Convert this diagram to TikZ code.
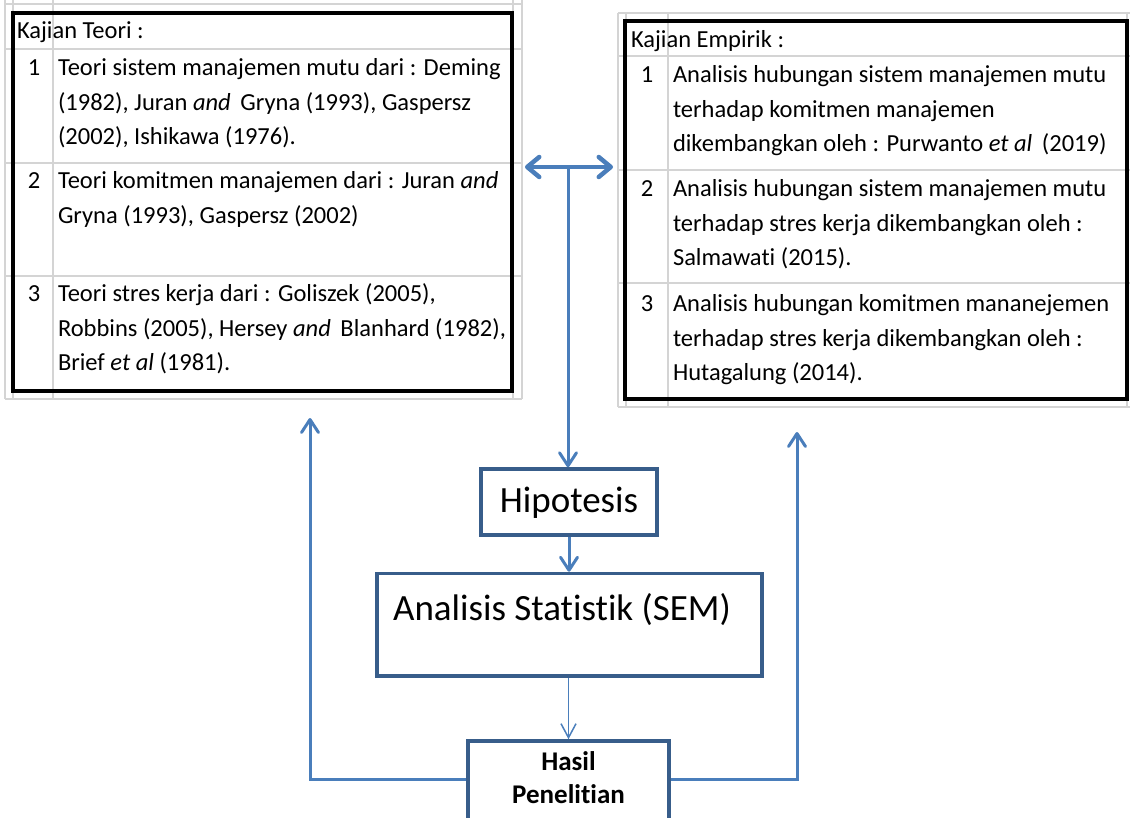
\documentclass[tikz,border=0pt]{standalone}
\usepackage{fontspec}
\setmainfont{Carlito}[Ligatures={CommonOff,ContextualOff}]
\usetikzlibrary{arrows.meta}
\definecolor{conncol}{HTML}{4A7EBB}
\definecolor{boxcol}{HTML}{385D8A}
\definecolor{gridcol}{HTML}{D4D4D4}
\begin{document}
\begin{tikzpicture}[x=1pt,y=-1pt,
  gridline/.style={draw=gridcol, line width=1.3pt},
  tableframe/.style={draw=black, line width=4pt, inner sep=0pt, outer sep=0pt, anchor=north west},
  celltext/.style={inner sep=0pt, outer sep=0pt, anchor=base west, font=\fontsize{24.5}{34.5}\selectfont},
  numtext/.style={inner sep=0pt, outer sep=0pt, anchor=base, font=\fontsize{24.5}{34.5}\selectfont},
  flowbox/.style={draw=boxcol, line width=3.5pt, fill=white, inner sep=0pt},
  conn/.style={draw=conncol, line width=3pt, -{Straight Barb[length=13pt,width=17pt,round]}},
  thinconn/.style={draw=conncol, line width=1.5pt, -{Straight Barb[length=14pt,width=15pt]}},
  dblconn/.style={draw=conncol, line width=4.5pt, {Straight Barb[length=12pt,width=20pt,round]}-{Straight Barb[length=12pt,width=20pt,round]}}
]
\useasboundingbox (0,0) rectangle (1130,818);

% ---------- grid of left table ----------
\foreach \gx in {5,13,53,513,522} \draw[gridline] (\gx,0) -- (\gx,399);
\foreach \gy in {4,49,163,276,399} \draw[gridline] (5,\gy) -- (522,\gy);
% ---------- grid of right table ----------
\foreach \gx in {618,626,668,1127} \draw[gridline] (\gx,13) -- (\gx,407);
\foreach \gy in {13,56,170,283,407} \draw[gridline] (618,\gy) -- (1130,\gy);

% ---------- table frames ----------
\node[tableframe, minimum width=499.5, minimum height=377.5] (teori) at (12.5,13) {};
\node[tableframe, minimum width=502, minimum height=378] (empirik) at (625,21) {};

% ---------- left table text ----------
\node[celltext] (th) at (17,39) {Kajian Teori :};
\node[numtext] (n1) at (34,76) {1};
\node[numtext] (n2) at (34,189) {2};
\node[numtext] (n3) at (34,302) {3};
\node[celltext] (t1) at (58,76) {\begin{tabular}[t]{@{}l@{}}Teori sistem manajemen mutu dari : Deming\\(1982), Juran \textit{and}\, Gryna (1993), Gaspersz\\(2002), Ishikawa (1976).\end{tabular}};
\node[celltext] (t2) at (58,189) {\begin{tabular}[t]{@{}l@{}}Teori komitmen manajemen dari : Juran \textit{and}\\Gryna (1993), Gaspersz (2002)\end{tabular}};
\node[celltext] (t3) at (58,302) {\begin{tabular}[t]{@{}l@{}}Teori stres kerja dari : Goliszek (2005),\\Robbins (2005), Hersey \textit{and}\, Blanhard (1982),\\Brief \textit{et al} (1981).\end{tabular}};

% ---------- right table text ----------
\node[celltext] (eh) at (631,48) {Kajian Empirik :};
\node[numtext] (m1) at (647,83) {1};
\node[numtext] (m2) at (647,197) {2};
\node[numtext] (m3) at (647,312) {3};
\node[celltext] (e1) at (673,83) {\begin{tabular}[t]{@{}l@{}}Analisis hubungan sistem manajemen mutu\\terhadap komitmen manajemen\\dikembangkan oleh : Purwanto \textit{et al}\, (2019)\end{tabular}};
\node[celltext] (e2) at (673,197) {\begin{tabular}[t]{@{}l@{}}Analisis hubungan sistem manajemen mutu\\terhadap stres kerja dikembangkan oleh :\\Salmawati (2015).\end{tabular}};
\node[celltext] (e3) at (673,312) {\begin{tabular}[t]{@{}l@{}}Analisis hubungan komitmen mananejemen\\terhadap stres kerja dikembangkan oleh :\\Hutagalung (2014).\end{tabular}};

% ---------- flow boxes ----------
\node[flowbox, minimum width=176, minimum height=66, text height=26pt, text depth=6pt,
      font=\fontsize{37}{44}\selectfont] (hip) at (569,502) {Hipotesis};
\node[flowbox, minimum width=385, minimum height=102.5, text height=26pt, text depth=35.5pt,
      font=\fontsize{37}{44}\selectfont] (sem) at (569.5,624.75) {Analisis Statistik (SEM)\hspace*{15pt}};
\node[flowbox, minimum width=201, minimum height=110, anchor=north] (hasil) at (568.5,739.25) {};
\node[inner sep=0pt, anchor=base, font=\bfseries\fontsize{27}{33}\selectfont] (hasiltxt) at (568.5,770)
      {\begin{tabular}[t]{@{}c@{}}Hasil\\Penelitian\end{tabular}};

% ---------- connectors ----------
\coordinate (dl) at (525,167);
\coordinate (dr) at (613,167);
\coordinate (dm) at (568,167);
\coordinate (lt) at (310,418);
\coordinate (rt) at (797,432);
\coordinate (fb) at (0,779);

\draw[dblconn] (dl) -- (dr);
\draw[conn] (dm) -- (dm |- hip.north);
\draw[conn] (hip.south) -- (hip.south |- sem.north);
\draw[thinconn] (hasil.north |- sem.south) -- (hasil.north);
\draw[conn] (hasil.west |- fb) -| (lt);
\draw[conn] (hasil.east |- fb) -| (rt);
\end{tikzpicture}
\end{document}
